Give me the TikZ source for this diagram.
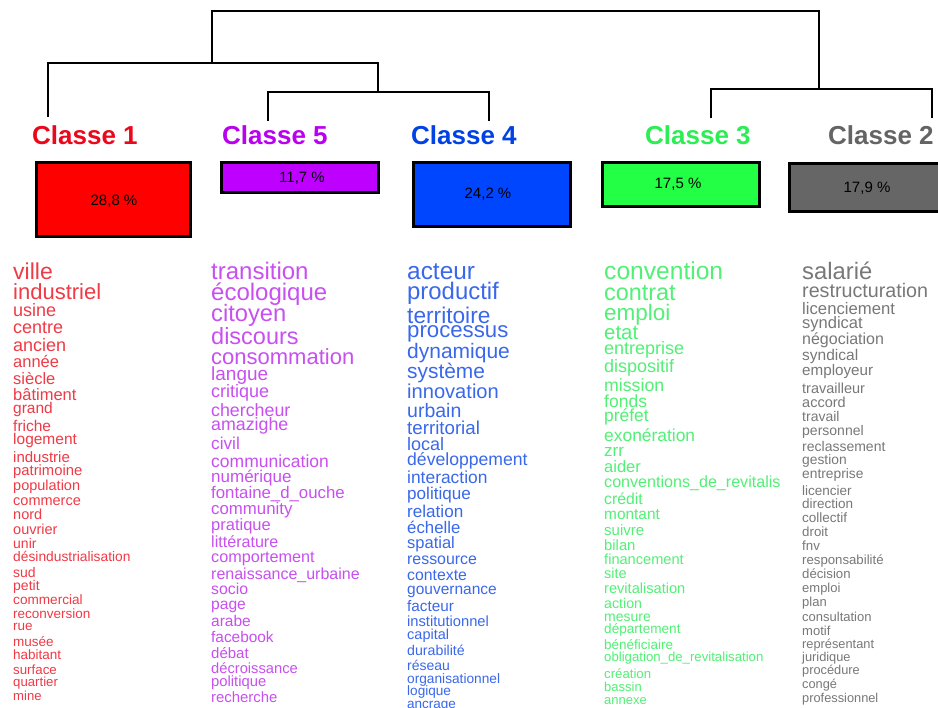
\documentclass[tikz,border=0pt]{standalone}
\usepackage{fontspec}
\setmainfont{Liberation Sans}
\definecolor{tRed}{RGB}{236,8,28}
\definecolor{tPur}{RGB}{186,0,240}
\definecolor{tBlu}{RGB}{0,66,228}
\definecolor{tGrn}{RGB}{44,238,84}
\definecolor{tGry}{RGB}{100,100,100}
\definecolor{fRed}{RGB}{255,0,0}
\definecolor{fPur}{RGB}{190,0,255}
\definecolor{fBlu}{RGB}{0,70,255}
\definecolor{fGrn}{RGB}{34,255,68}
\definecolor{fGry}{RGB}{102,102,102}
\definecolor{wRed}{RGB}{240,58,70}
\definecolor{wPur}{RGB}{200,80,240}
\definecolor{wBlu}{RGB}{58,104,235}
\definecolor{wGrn}{RGB}{82,240,118}
\definecolor{wGry}{RGB}{120,120,120}
\tikzset{
  dendro/.style={line width=1.6pt, draw=black},
  classbox/.style={draw=black, line width=3pt, inner sep=0, anchor=north west},
  classtitle/.style={font=\fontsize{26}{26}\selectfont\bfseries, anchor=base west, inner sep=0},
  pct/.style={font=\fontsize{15}{15}\selectfont, text=black, inner sep=0},
  word/.style={anchor=mid west, inner sep=0}
}
\begin{document}
\begin{tikzpicture}[x=1pt,y=-1pt]
\useasboundingbox (0,0) rectangle (938,708);
\clip (0,0) rectangle (938,708);
\fill[white] (0,0) rectangle (938,708);

% dendrogram
\coordinate (t1) at (48,117);
\coordinate (t5) at (268,121);
\coordinate (t4) at (489,121);
\coordinate (t3) at (711,118);
\coordinate (t2) at (932,118);
\coordinate (j54) at (378,92);
\coordinate (j154) at (212,63);
\coordinate (j32) at (819,89);
\coordinate (root) at (515,11);
\draw[dendro] (t5) |- (j54) -| (t4);
\draw[dendro] (t1) |- (j154) -| (j54);
\draw[dendro] (t3) |- (j32) -| (t2);
\draw[dendro] (j154) |- (root) -| (j32);

% titles
\node[classtitle, text=tRed] (h1) at (32,145) {Classe 1};
\node[classtitle, text=tPur] (h5) at (222,145) {Classe 5};
\node[classtitle, text=tBlu] (h4) at (411,145) {Classe 4};
\node[classtitle, text=tGrn] (h3) at (645,145) {Classe 3};
\node[classtitle, text=tGry] (h2) at (828,145) {Classe 2};

% boxes
\node[classbox, fill=fRed, minimum width=154pt, minimum height=74pt] (b1) at (34.5,161.5) {};
\node[classbox, fill=fPur, minimum width=157pt, minimum height=30pt] (b5) at (219.5,161.5) {};
\node[classbox, fill=fBlu, minimum width=157pt, minimum height=64pt] (b4) at (411.5,161.5) {};
\node[classbox, fill=fGrn, minimum width=157pt, minimum height=44pt] (b3) at (600.5,161.5) {};
\node[classbox, fill=fGry, minimum width=170pt, minimum height=48pt] (b2) at (787.5,162.5) {};
\node[pct] (p1) at (114,201) {28,8 \%};
\node[pct] (p5) at (302,178) {11,7 \%};
\node[pct] (p4) at (488,194) {24,2 \%};
\node[pct] (p3) at (678,184) {17,5 \%};
\node[pct] (p2) at (867,188) {17,9 \%};

% column 1
\foreach \yy/\s/\w [count=\i] in {
271/23/ville, 292/22/industriel, 310/18/usine, 327/18/centre, 345/18/ancien,
361/16.5/année, 378/16.5/siècle, 394/16.5/bâtiment, 407/15.5/grand, 425/15.5/friche,
438/15.5/logement, 456/15/industrie, 469/14.8/patrimoine, 484/14.5/population,
499/14.5/commerce, 513/14.5/nord, 528/14.5/ouvrier, 542/14/unir,
556/13.8/désindustrialisation, 571/14/sud, 584/14/petit, 599/13.6/commercial,
613/13.5/reconversion, 625/13.5/rue, 641/13.5/musée, 654/13.5/habitant,
669/13.3/surface, 681/13.2/quartier, 695/13.1/mine}
  \node[word, text=wRed, font=\fontsize{\s}{\s}\selectfont] (wa\i) at (13,{\yy+0.24*\s}) {\w};

% column 2
\foreach \yy/\s/\w [count=\i] in {
271/24/transition, 292/24/écologique, 313/23.7/citoyen, 336/23.5/discours,
357/22/consommation, 373/19/langue, 391/18/critique, 410/17.8/chercheur,
424/17.8/amazighe, 443/17.2/civil, 461/17.5/communication, 476/17/numérique,
492/16.8/fontaine\_d\_ouche, 508/16.8/community, 524/16.5/pratique,
541/16.1/littérature, 556/16.2/comportement, 573/16/renaissance\_urbaine,
588/15.8/socio, 603/15.6/page, 620/15.5/arabe, 636/15.4/facebook, 652/15/débat,
667/14.7/décroissance, 680/14.8/politique, 696/14.9/recherche}
  \node[word, text=wPur, font=\fontsize{\s}{\s}\selectfont] (wb\i) at (211,{\yy+0.24*\s}) {\w};

% column 3
\foreach \yy/\s/\w [count=\i] in {
271/24.4/acteur, 291/23.9/productif, 315/22.7/territoire, 330/22.2/processus,
351/21/dynamique, 371/20.9/système, 391/20.1/innovation, 410/19.5/urbain,
427/18.7/territorial, 444/18/local, 459/17.6/développement, 477/17.4/interaction,
493/17.1/politique, 511/17.1/relation, 527/16.8/échelle, 542/16.5/spatial,
558/15.9/ressource, 574/15.8/contexte, 588/15.5/gouvernance, 605/15.3/facteur,
620/14.7/institutionnel, 633/14.5/capital, 649/14.2/durabilité, 664/14/réseau,
678/13.7/organisationnel, 690/13.6/logique, 703/13.5/ancrage}
  \node[word, text=wBlu, font=\fontsize{\s}{\s}\selectfont] (wc\i) at (407,{\yy+0.24*\s}) {\w};

% column 4
\foreach \yy/\s/\w [count=\i] in {
271/24.6/convention, 292/23.4/contrat, 312/22.5/emploi, 332/20.4/etat,
348/18/entreprise, 366/18/dispositif, 385/17.7/mission, 401/17.5/fonds,
415/17.4/préfet, 435/17.4/exonération, 450/17/zrr, 466/16.5/aider,
481/16.1/conventions\_de\_revitalis, 498/15.8/crédit, 513/15.4/montant,
529/15/suivre, 544/14.8/bilan, 558/14.6/financement, 572/14.5/site,
587/14.6/revitalisation, 602/14.2/action, 615/14/mesure, 628/13.6/département,
644/13.5/bénéficiaire, 656/13.2/obligation\_de\_revitalisation, 673/13.2/création,
686/13/bassin, 699/13/annexe}
  \node[word, text=wGrn, font=\fontsize{\s}{\s}\selectfont] (wd\i) at (604,{\yy+0.24*\s}) {\w};

% column 5
\foreach \yy/\s/\w [count=\i] in {
271/23.8/salarié, 290/19.7/restructuration, 308/16.7/licenciement, 322/16.5/syndicat,
338/16/négociation, 354/15.5/syndical, 369/15.2/employeur, 387/14.5/travailleur,
401/14.5/accord, 416/14/travail, 430/14/personnel, 445/14/reclassement,
459/13.8/gestion, 473/13.8/entreprise, 490/13.5/licencier, 503/13.5/direction,
517/13.5/collectif, 531/13.3/droit, 545/13.3/fnv, 559/13.2/responsabilité,
573/13.2/décision, 587/13/emploi, 601/13/plan, 616/13/consultation, 630/13/motif,
643/12.8/représentant, 656/12.8/juridique, 669/12.8/procédure, 683/12.8/congé,
697/12.8/professionnel}
  \node[word, text=wGry, font=\fontsize{\s}{\s}\selectfont] (we\i) at (802,{\yy+0.24*\s}) {\w};
\end{tikzpicture}
\end{document}
